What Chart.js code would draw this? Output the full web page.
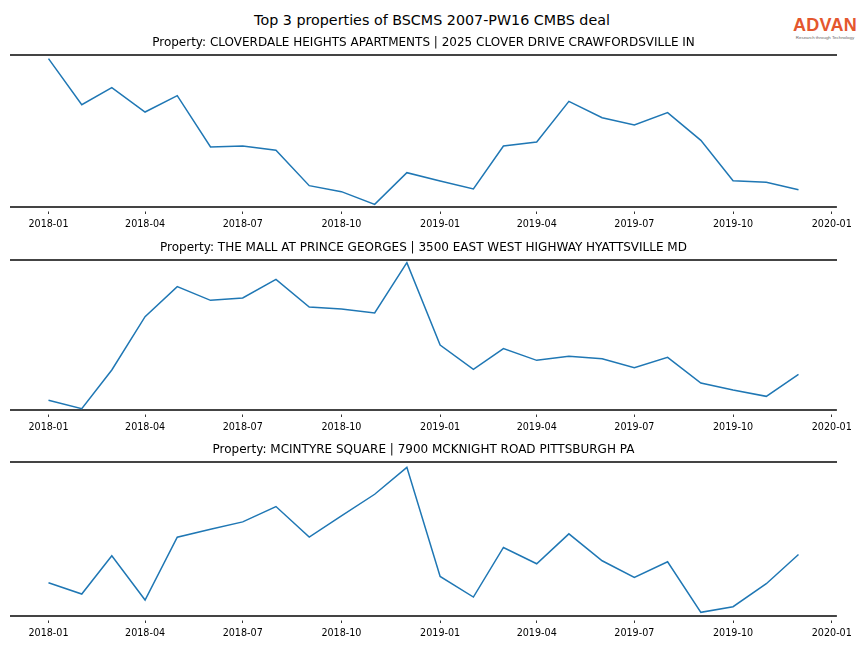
<!DOCTYPE html>
<html>
<head>
<meta charset="utf-8">
<script src="https://cdn.jsdelivr.net/npm/chart.js@4.4.1/dist/chart.umd.min.js"></script>
<style>
  body { margin: 0; background: #fff; }
  #wrap { position: relative; width: 864px; height: 648px; font-family: "DejaVu Sans", sans-serif; overflow: hidden; }
  #title { position: absolute; top: 11.5px; left: 0; width: 864px; text-align: center; font-size: 14.3px; line-height: 17px; color: #000; }
  #logo { position: absolute; left: 791px; top: 16px; width: 68px; text-align: center; font-family: "Liberation Sans", sans-serif; }
  #logo .brand { font-size: 18px; font-weight: 600; color: #e4572e; line-height: 19px; letter-spacing: 0.3px; }
  #logo .tag { font-size: 4.4px; color: #666; line-height: 6px; white-space: nowrap; }
  canvas { position: absolute; left: 0; }
</style>
</head>
<body>
<div id="wrap">
  <div id="title">Top 3 properties of BSCMS 2007-PW16 CMBS deal</div>
  <div id="logo"><div class="brand">ADVAN</div><div class="tag">Research through Technology</div></div>
  <canvas id="chart0" width="864" height="210"></canvas>
  <canvas id="chart1" width="864" height="210"></canvas>
  <canvas id="chart2" width="864" height="210"></canvas>
</div>
<script>
// monthly points, 2018-01 .. 2019-12
const months = [
  '2018-01', '2018-02', '2018-03', '2018-04', '2018-05', '2018-06',
  '2018-07', '2018-08', '2018-09', '2018-10', '2018-11', '2018-12',
  '2019-01', '2019-02', '2019-03', '2019-04', '2019-05', '2019-06',
  '2019-07', '2019-08', '2019-09', '2019-10', '2019-11', '2019-12'
];
const tickLabels = ['2018-01', '2018-04', '2018-07', '2018-10', '2019-01', '2019-04', '2019-07', '2019-10', '2020-01'];

const propertyTitles = [
  'Property: CLOVERDALE HEIGHTS APARTMENTS | 2025 CLOVER DRIVE CRAWFORDSVILLE IN',
  'Property: THE MALL AT PRINCE GEORGES | 3500 EAST WEST HIGHWAY HYATTSVILLE MD',
  'Property: MCINTYRE SQUARE | 7900 MCKNIGHT ROAD PITTSBURGH PA'
];

// relative activity (no y scale shown)
const cloverdale = [445, 307, 358, 285, 334, 180, 183, 170, 64, 46, 8, 103, 78, 54, 183, 195, 317, 268, 246, 283, 200, 79, 74, 52];
const mallPrinceGeorges = [29, 4, 120, 280, 370, 329, 336, 392, 309, 303, 291, 442, 195, 122, 184, 149, 161, 154, 127, 158, 81, 60, 41, 107];
const mcintyre = [100, 66, 181, 48, 237, 261, 283, 329, 237, 301, 366, 447, 119, 57, 206, 157, 247, 166, 116, 163, 11, 28, 97, 185];

const yRanges = [[0, 456], [0, 450], [0, 463]];

const seriesList = [cloverdale, mallPrinceGeorges, mcintyre];
const spineTops = [55, 260, 462];
const spineHeights = [152, 150, 154];

const toDay = (s) => {
  const [y, m] = s.split('-').map(Number);
  return Date.UTC(y, m - 1, 1) / 864e5;
};

const firstDay = toDay(months[0]);
const lastDay = toDay(months[months.length - 1]);
const margin = (lastDay - firstDay) * 0.05;
const xMin = firstDay - margin;
const xMax = lastDay + margin;

const titleSpace = 30;
const axisSpace = 26;

const makeChart = (i) => {
  const canvas = document.getElementById('chart' + i);
  canvas.height = titleSpace + spineHeights[i] + axisSpace;
  canvas.style.top = (spineTops[i] - titleSpace) + 'px';

  const points = months.map((m, k) => ({ x: toDay(m), y: seriesList[i][k] }));

  new Chart(canvas, {
    type: 'line',
    data: {
      datasets: [{
        data: points,
        borderColor: '#1f77b4',
        borderWidth: 1.5,
        pointRadius: 0,
        tension: 0,
        fill: false
      }]
    },
    options: {
      responsive: false,
      animation: false,
      events: [],
      layout: { padding: { left: 11, right: 28, top: 0, bottom: 0 } },
      plugins: {
        legend: { display: false },
        tooltip: { enabled: false },
        title: {
          display: true,
          text: propertyTitles[i],
          color: '#000',
          font: { family: 'DejaVu Sans', size: 12, weight: 'normal', lineHeight: 1.2 },
          padding: { top: 10.8, bottom: 4.8 }
        }
      },
      scales: {
        x: {
          type: 'linear',
          position: 'bottom',
          min: xMin,
          max: xMax,
          afterBuildTicks: (scale) => {
            scale.ticks = tickLabels.map((t) => ({ value: toDay(t) }));
          },
          afterFit: (scale) => { scale.height = axisSpace; },
          ticks: {
            autoSkip: false,
            maxRotation: 0,
            padding: 4.5,
            color: '#000',
            font: { family: 'DejaVu Sans', size: 9.6 },
            callback: (value, index) => tickLabels[index]
          },
          grid: {
            display: true,
            drawOnChartArea: false,
            drawTicks: true,
            tickLength: 7,
            tickBorderDash: [0, 3.5, 3.5, 20],
            color: '#000',
            lineWidth: 0.8
          },
          border: { display: true, color: '#444', width: 2 }
        },
        x2: {
          type: 'linear',
          position: 'top',
          min: xMin,
          max: xMax,
          afterFit: (scale) => { scale.height = 0; },
          ticks: { display: false },
          grid: { display: false, drawTicks: false },
          border: { display: true, color: '#444', width: 2 }
        },
        y: {
          display: false,
          min: yRanges[i][0],
          max: yRanges[i][1]
        }
      }
    }
  });
};

for (let i = 0; i < seriesList.length; i++) {
  makeChart(i);
}
</script>
</body>
</html>
